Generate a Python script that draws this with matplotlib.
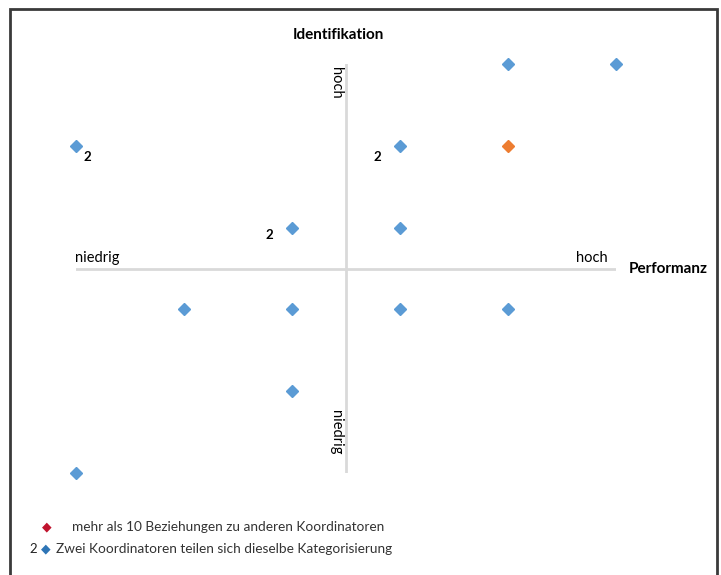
import matplotlib
matplotlib.use("Agg")
from matplotlib import pyplot as plt
from matplotlib.patches import Rectangle

# coordinators placed on the performance / identification grid
performanz = [1.5, 2.5, -2.5, 0.5, -0.5, 0.5, -1.5, -0.5, 0.5, 1.5, -0.5, -2.5]
identifikation = [2.5, 2.5, 1.5, 1.5, 0.5, 0.5, -0.5, -0.5, -0.5, -0.5, -1.5, -2.5]
# coordinator with more than 10 relations (highlighted)
hl_performanz = [1.5]
hl_identifikation = [1.5]
# points where two coordinators share the same position
dup_x = [-2.5, 0.5, -0.5]
dup_y = [1.5, 1.5, 0.5]
dup_off = [(8, -8), (-16, -8), (-16, -5)]

blue = '#5B9BD5'
orange = '#ED7D31'
red = '#C0142E'

plt.rcParams['font.family'] = ['Lato', 'DejaVu Sans']
fig = plt.figure(figsize=(7.21, 5.75), dpi=100)
fig.patches.append(Rectangle((10 / 721, -0.01), 707 / 721, 1 - 9 / 575 + 0.01,
                             transform=fig.transFigure, fill=False,
                             edgecolor='#3a3a3a', linewidth=2))

ax = fig.add_axes([76 / 721, 1 - 473 / 575, 540 / 721, 409 / 575])
ax.set_xlim(-2.5, 2.5)
ax.set_ylim(-2.5, 2.5)
ax.axis('off')

ax.axhline(0, color='#d9d9d9', lw=2, zorder=1)
ax.axvline(0, color='#d9d9d9', lw=2, zorder=1)

ax.plot(performanz, identifikation, 'D', color=blue, ms=6.5, clip_on=False, zorder=3)
ax.plot(hl_performanz, hl_identifikation, 'D', color=orange, ms=6.5, clip_on=False, zorder=3)

for x, y, off in zip(dup_x, dup_y, dup_off):
    ax.annotate('2', (x, y), xytext=off, textcoords='offset points',
                ha='center', va='center', fontsize=9.5, fontweight='bold')

ax.text(-0.07, 2.86, 'Identifikation', ha='center', va='center',
        fontsize=11, fontweight='bold')
ax.text(-0.09, 2.27, 'hoch', rotation=-90, ha='center', va='center', fontsize=10.5)
ax.text(-0.09, -2.0, 'niedrig', rotation=-90, ha='center', va='center', fontsize=10.5)
ax.text(-2.51, 0.04, 'niedrig', ha='left', va='bottom', fontsize=10.5)
ax.text(2.42, 0.04, 'hoch', ha='right', va='bottom', fontsize=10.5)
ax.text(2.62, -0.01, 'Performanz', ha='left', va='center', fontsize=11, fontweight='bold')

# legend at the bottom
fig.text(47 / 721, 1 - 527 / 575, '\u25c6', color=red, fontsize=9, ha='center', va='center',
         family=['DejaVu Sans'])
fig.text(72 / 721, 1 - 527 / 575, 'mehr als 10 Beziehungen zu anderen Koordinatoren',
         fontsize=9.8, color='#333333', ha='left', va='center')
fig.text(33 / 721, 1 - 549 / 575, '2', fontsize=9.5, color='#222222', ha='center', va='center')
fig.text(46 / 721, 1 - 549 / 575, '\u25c6', color='#2E75B6', fontsize=9, ha='center', va='center',
         family=['DejaVu Sans'])
fig.text(56 / 721, 1 - 549 / 575, 'Zwei Koordinatoren teilen sich dieselbe Kategorisierung',
         fontsize=9.8, color='#333333', ha='left', va='center')

fig.savefig('out.png', dpi=100)
